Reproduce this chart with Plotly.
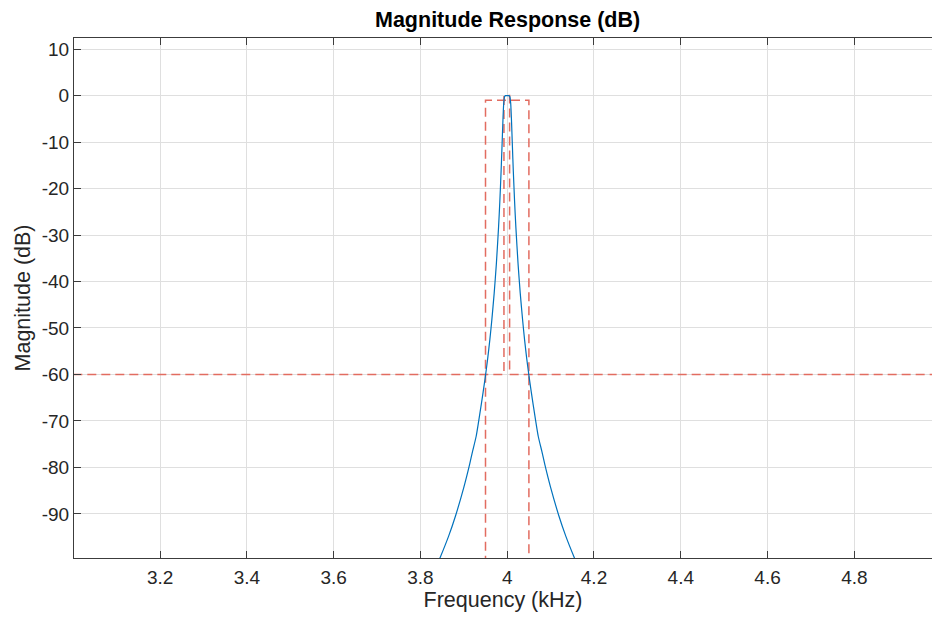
import plotly.graph_objects as go

# ---- data ----
freq_khz = [3.830, 3.8455, 3.865, 3.881, 3.900, 3.9135, 3.920, 3.9285, 3.940, 3.949,
            3.955, 3.960, 3.9645, 3.970, 3.975, 3.980, 3.983, 3.986, 3.988, 3.989,
            3.990, 3.991, 3.992, 3.994, 3.996, 4.000, 4.004, 4.006, 4.008, 4.009,
            4.010, 4.011, 4.012, 4.014, 4.017, 4.020, 4.025, 4.030, 4.0355, 4.040,
            4.045, 4.051, 4.060, 4.0715, 4.080, 4.0865, 4.100, 4.119, 4.135, 4.1545, 4.170]
mag_db = [-102.8, -99.4, -94.8, -90.4, -84.3, -79.3, -76.6, -73.3, -66.6, -60.9,
          -56.6, -52.5, -48.3, -42.5, -36.2, -28.4, -22.8, -16.1, -11.0, -8.3,
          -5.7, -3.4, -1.6, -0.2, 0.0, 0.0, 0.0, -0.2, -1.6, -3.4,
          -5.7, -8.3, -11.0, -16.1, -22.8, -28.4, -36.2, -42.5, -48.3, -52.5,
          -56.6, -60.9, -66.6, -73.3, -76.6, -79.3, -84.3, -90.4, -94.8, -99.4, -102.8]

stop_mask_x = [3.0, 3.9925, 3.9925, 4.0055, 4.0055, 5.0]
stop_mask_y = [-60, -60, 0, 0, -60, -60]
pass_mask_x = [3.95, 3.95, 4.05, 4.05]
pass_mask_y = [-110, -1, -1, -110]

x_tick_vals = [3.2, 3.4, 3.6, 3.8, 4.0, 4.2, 4.4, 4.6, 4.8]
x_tick_text = ["3.2", "3.4", "3.6", "3.8", "4", "4.2", "4.4", "4.6", "4.8"]
y_tick_vals = [10, 0, -10, -20, -30, -40, -50, -60, -70, -80, -90]
y_tick_text = ["10", "0", "-10", "-20", "-30", "-40", "-50", "-60", "-70", "-80", "-90"]

title_text = "Magnitude Response (dB)"
x_label = "Frequency (kHz)"
y_label = "Magnitude (dB)"

FONT = "Liberation Sans, Arial, sans-serif"
MASK_COLOR = "rgb(226,108,96)"
LINE_COLOR = "rgb(0,114,189)"
TEXT_COLOR = "rgb(38,38,38)"

fig = go.Figure()
fig.add_trace(go.Scatter(x=stop_mask_x, y=stop_mask_y, mode="lines",
                         line=dict(color=MASK_COLOR, width=1.5, dash="9px,5px"),
                         hoverinfo="skip", showlegend=False))
fig.add_trace(go.Scatter(x=pass_mask_x, y=pass_mask_y, mode="lines",
                         line=dict(color=MASK_COLOR, width=1.5, dash="9px,5px"),
                         hoverinfo="skip", showlegend=False))
fig.add_trace(go.Scatter(x=freq_khz, y=mag_db, mode="lines",
                         line=dict(color=LINE_COLOR, width=1.2, shape="spline", smoothing=0.6),
                         showlegend=False))

axis_common = dict(showgrid=True, gridcolor="rgb(223,223,223)", gridwidth=1,
                   zeroline=False, showline=True, linecolor="rgb(60,60,60)", linewidth=1,
                   ticks="inside", ticklen=7, tickcolor="rgb(60,60,60)", automargin=False,
                   tickfont=dict(family=FONT, size=19, color=TEXT_COLOR))

fig.update_xaxes(range=[3.0016, 4.979], tickvals=x_tick_vals, ticktext=x_tick_text,
                 mirror="ticks", ticklabelstandoff=2,
                 title=dict(text=x_label, font=dict(family=FONT, size=21.5, color=TEXT_COLOR),
                            standoff=4),
                 **axis_common)
fig.update_yaxes(range=[-99.5, 12.4], tickvals=y_tick_vals, ticktext=y_tick_text,
                 title=dict(text=y_label, font=dict(family=FONT, size=21.5, color=TEXT_COLOR),
                            standoff=5),
                 **axis_common)

fig.update_layout(
    width=932, height=617,
    margin=dict(l=74, r=0, t=38, b=59),
    plot_bgcolor="white", paper_bgcolor="white",
    annotations=[dict(text="<b>" + title_text + "</b>", xref="paper", yref="paper",
                      x=0.5047, y=1, yanchor="middle", yshift=18, showarrow=False,
                      font=dict(family=FONT, size=21.5, color="black"))],
)

fig.write_html("out.html", config={"displayModeBar": False},
               post_script="document.body.style.margin='0';document.body.style.overflow='hidden';")
